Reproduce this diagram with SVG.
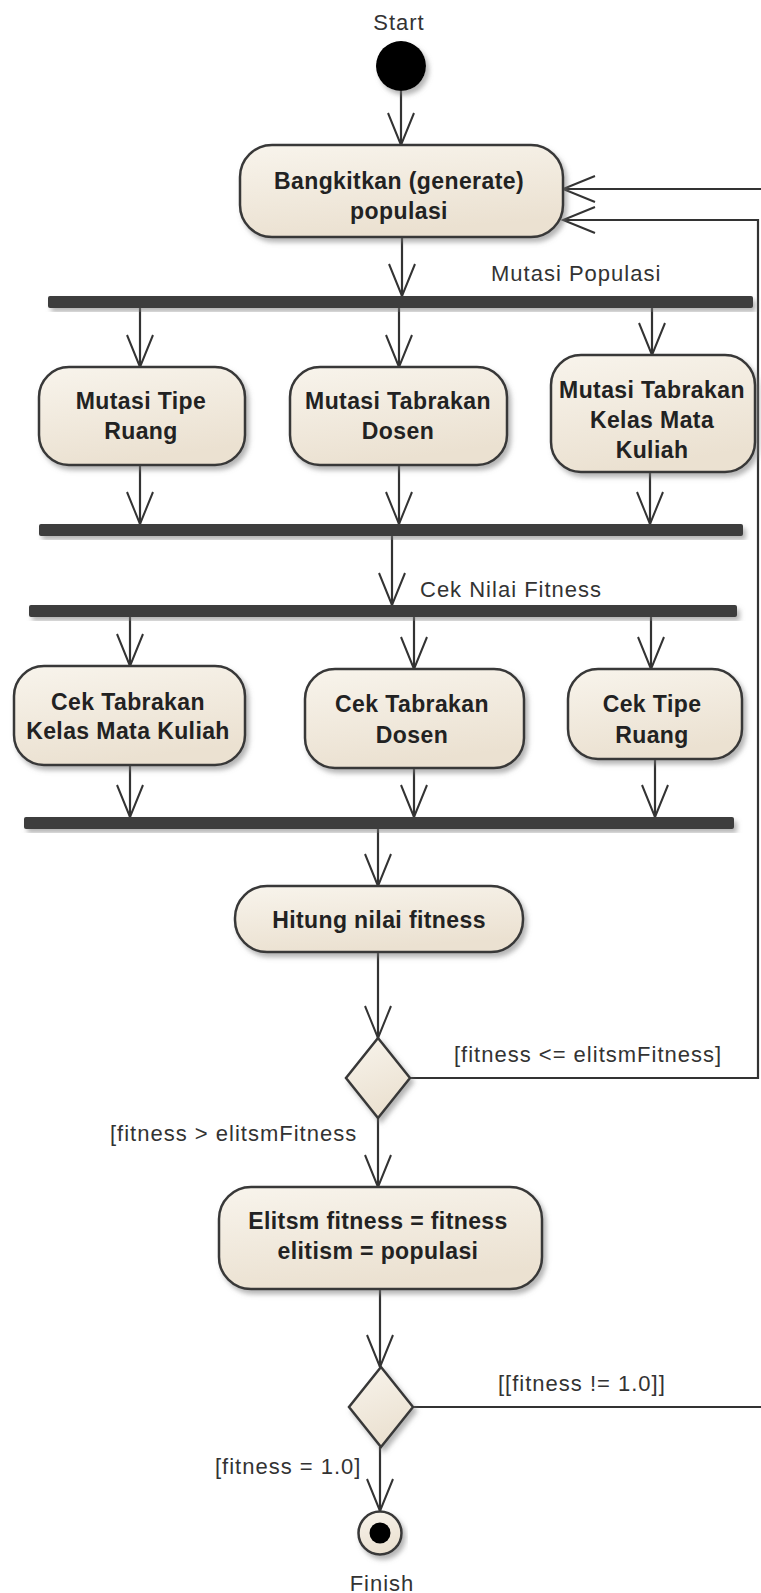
<svg xmlns="http://www.w3.org/2000/svg" width="761" height="1593" viewBox="0 0 761 1593">
<style>
.n{fill:url(#g);stroke:#383838;stroke-width:2.5;filter:url(#sh)}
.bar{fill:#3c3c3c;filter:url(#sh)}
.c{fill:none;stroke:#333;stroke-width:2.2;marker-end:url(#arr)}
.cn{fill:none;stroke:#333;stroke-width:2.2}
.b{font-family:"Liberation Sans",Arial,sans-serif;font-weight:bold;font-size:23px;letter-spacing:0.4px;fill:#222;text-anchor:middle}
.l{font-family:"Liberation Sans",Arial,sans-serif;font-size:22px;letter-spacing:1px;fill:#333}
.lm{font-family:"Liberation Sans",Arial,sans-serif;font-size:22px;letter-spacing:1px;fill:#333;text-anchor:middle}
</style>
<defs>
<linearGradient id="g" x1="0" y1="0" x2="0.3" y2="1">
<stop offset="0" stop-color="#f8f4ec"/>
<stop offset="1" stop-color="#ebe1d1"/>
</linearGradient>
<filter id="sh" x="-10%" y="-20%" width="125%" height="150%">
<feDropShadow dx="3" dy="4" stdDeviation="2.5" flood-color="#777" flood-opacity="0.55"/>
</filter>
<marker id="arr" markerUnits="userSpaceOnUse" orient="auto" refX="0" refY="0" markerWidth="40" markerHeight="40" overflow="visible">
<path d="M-32,-13 L0,0 L-32,13" fill="none" stroke="#333" stroke-width="2"/>
</marker>
</defs>
<rect width="761" height="1593" fill="#ffffff"/>

<g id="connectors">
<path class="c" d="M401,91 V145"/>
<path class="c" d="M402,237 V296"/>
<path class="c" d="M140,308 V367"/>
<path class="c" d="M399,308 V367"/>
<path class="c" d="M652,308 V355"/>
<path class="c" d="M140,465 V524"/>
<path class="c" d="M399,465 V524"/>
<path class="c" d="M650,472 V524"/>
<path class="c" d="M392,536 V605"/>
<path class="c" d="M130,617 V666"/>
<path class="c" d="M414,617 V669"/>
<path class="c" d="M651,617 V669"/>
<path class="c" d="M130,765 V817"/>
<path class="c" d="M414,768 V817"/>
<path class="c" d="M655,759 V817"/>
<path class="c" d="M378,829 V886"/>
<path class="c" d="M378,952 V1038"/>
<path class="c" d="M410,1078 H758 V220 H563"/>
<path class="c" d="M378,1118 V1187"/>
<path class="c" d="M380,1289 V1367"/>
<path class="c" d="M413,1407 H764 V189 H563"/>
<path class="c" d="M380,1447 V1511"/>
<text class="lm" x="399" y="30">Start</text>
<text class="l" x="491" y="281">Mutasi Populasi</text>
<text class="l" x="420" y="597">Cek Nilai Fitness</text>
<text class="l" x="454" y="1062">[fitness &lt;= elitsmFitness]</text>
<text class="l" x="110" y="1141">[fitness &gt; elitsmFitness</text>
<text class="l" x="498" y="1391">[[fitness != 1.0]]</text>
<text class="l" x="215" y="1474">[fitness = 1.0]</text>
<text class="lm" x="382" y="1591">Finish</text>
</g>

<g id="start"><circle cx="401" cy="66" r="25" fill="#000" filter="url(#sh)"/></g>

<g id="bangkitkan">
<rect class="n" x="240" y="145" width="323" height="92" rx="32"/>
<text class="b" x="399" y="189">Bangkitkan (generate)</text>
<text class="b" x="399" y="219">populasi</text>
</g>

<g id="fork1"><rect class="bar" x="48" y="296" width="705" height="12" rx="2"/></g>

<g id="mutasiTipe">
<rect class="n" x="39" y="367" width="206" height="98" rx="30"/>
<text class="b" x="141" y="409">Mutasi Tipe</text>
<text class="b" x="141" y="439">Ruang</text>
</g>
<g id="mutasiDosen">
<rect class="n" x="290" y="367" width="217" height="98" rx="30"/>
<text class="b" x="398" y="409">Mutasi Tabrakan</text>
<text class="b" x="398" y="439">Dosen</text>
</g>
<g id="mutasiKelas">
<rect class="n" x="551" y="355" width="204" height="117" rx="30"/>
<text class="b" x="652" y="398">Mutasi Tabrakan</text>
<text class="b" x="652" y="428">Kelas Mata</text>
<text class="b" x="652" y="458">Kuliah</text>
</g>

<g id="join1"><rect class="bar" x="39" y="524" width="704" height="12" rx="2"/></g>
<g id="fork2"><rect class="bar" x="29" y="605" width="708" height="12" rx="2"/></g>

<g id="cekKelas">
<rect class="n" x="14" y="666" width="231" height="99" rx="30"/>
<text class="b" x="128" y="710">Cek Tabrakan</text>
<text class="b" x="128" y="739">Kelas Mata Kuliah</text>
</g>
<g id="cekDosen">
<rect class="n" x="305" y="669" width="219" height="99" rx="30"/>
<text class="b" x="412" y="712">Cek Tabrakan</text>
<text class="b" x="412" y="743">Dosen</text>
</g>
<g id="cekTipe">
<rect class="n" x="568" y="669" width="174" height="90" rx="30"/>
<text class="b" x="652" y="712">Cek Tipe</text>
<text class="b" x="652" y="743">Ruang</text>
</g>

<g id="join2"><rect class="bar" x="24" y="817" width="710" height="12" rx="2"/></g>

<g id="hitung">
<rect class="n" x="235" y="886" width="288" height="66" rx="32"/>
<text class="b" x="379" y="928">Hitung nilai fitness</text>
</g>

<g id="decision1"><path class="n" d="M378,1038 L410,1078 L378,1118 L346,1078 Z"/></g>

<g id="elitsm">
<rect class="n" x="219" y="1187" width="323" height="102" rx="32"/>
<text class="b" x="378" y="1229">Elitsm fitness = fitness</text>
<text class="b" x="378" y="1259">elitism = populasi</text>
</g>

<g id="decision2"><path class="n" d="M381,1367 L413,1407 L381,1447 L349,1407 Z"/></g>

<g id="finish">
<circle cx="380" cy="1533" r="21.5" fill="url(#g)" stroke="#383838" stroke-width="2.5" filter="url(#sh)"/>
<circle cx="380" cy="1533" r="10.5" fill="#000"/>
</g>
</svg>
